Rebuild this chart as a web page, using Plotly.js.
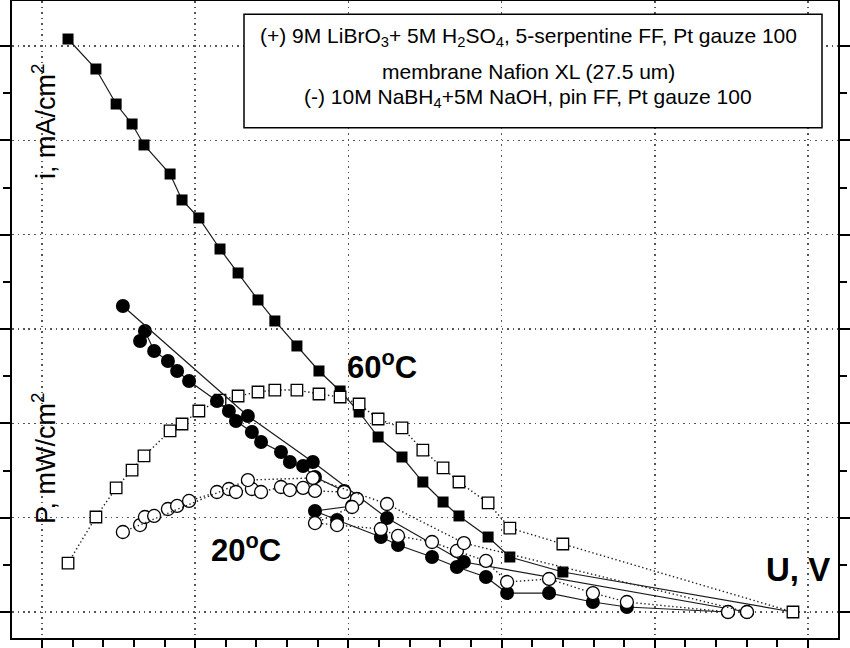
<!DOCTYPE html>
<html>
<head>
<meta charset="utf-8">
<script src="https://cdn.plot.ly/plotly-3.0.1.min.js"></script>
<style>html,body{margin:0;padding:0;background:#fff;}#chart{width:850px;height:648px;}</style>
</head>
<body>
<div id="chart"></div>
<script>
// ---- 60 C : current density (filled squares) and power density (open squares)
const U60 = [0.085,0.176,0.242,0.294,0.333,0.418,0.457,0.512,0.581,0.640,0.705,0.760,0.832,0.904,0.973,1.035,1.097,1.175,1.243,1.309,1.361,1.456,1.527,1.700,2.451];
const i60 = [607.4,575.6,538.5,517.3,495.1,464.3,436.8,417.7,384.8,359.4,330.8,308.5,282.0,255.5,234.3,212.0,185.5,164.3,137.8,116.6,101.8,79.5,58.3,42.4,0];
const P60 = [51.9,100.7,131.5,150.5,165.4,191.9,199.3,213.1,224.7,229.0,233.2,235.3,235.3,231.1,227.9,220.5,204.6,195.1,171.7,152.7,137.8,115.6,89.0,72.1,0];

// ---- 20 C : main run (filled circles = i, open circles = P)
const U20a = [0.320,0.336,0.366,0.411,0.441,0.480,0.571,0.610,0.633,0.685,0.715,0.780,0.809,0.852,0.891,0.986,1.028,1.012,0.891,0.963,1.106,1.162,1.273,1.354,1.449,1.518,1.655,1.798,1.909,2.239];
const i20a = [287.3,297.9,276.7,266.1,255.5,244.9,223.7,213.1,202.5,190.8,180.2,169.6,159.0,154.8,143.1,128.3,119.8,112.4,107.1,97.5,79.5,71.0,58.3,47.7,37.1,20.1,20.1,10.6,5.3,0];
const P20a = [92.2,100.7,101.8,109.2,112.4,117.7,127.2,130.4,127.2,130.4,127.2,132.5,129.3,131.5,128.3,127.2,119.8,111.3,94.3,92.2,88.0,80.6,74.2,64.7,54.1,31.8,35.0,20.1,10.6,0];

// ---- 20 C : sparse run
const U20b = [0.264,0.672,0.884,1.126,1.377,2.301];
const i20b = [324.4,207.8,159.0,99.6,53.0,0];
const P20b = [84.8,139.9,142.1,114.5,73.1,0];

// ---- texts
const yLabelI = 'i, mA/cm<sup>2</sup>';
const yLabelP = 'P, mW/cm<sup>2</sup>';
const xLabel = '<b>U, V</b>';
const label60 = '<b>60<sup>o</sup>C</b>';
const label20 = '<b>20<sup>o</sup>C</b>';
const infoLines = [
  '(+) 9M LiBrO<sub>3</sub>+ 5M H<sub>2</sub>SO<sub>4</sub>, 5-serpentine FF, Pt gauze 100',
  'membrane Nafion XL (27.5 um)',
  '(-) 10M NaBH<sub>4</sub>+5M NaOH, pin FF, Pt gauze 100'
];

const FONT = 'Liberation Sans, Arial, sans-serif';
const L = 12, R = 838, T = 1, B = 638;
function px(x){ return (x - L) / (R - L); }
function py(y){ return (B - y) / (B - T); }

const solid = {color:'#1a1a1a', width:1.2};
const dotted = {color:'#222', width:1.4, dash:'1.4px,2.6px'};
const filledSq = {symbol:'square', size:11, color:'#000', line:{width:0}};
const openSq = {symbol:'square', size:11.5, color:'#fff', line:{color:'#000', width:1.3}};
const filledCi = {symbol:'circle', size:14, color:'#000', line:{width:0}};
const openCi = {symbol:'circle', size:13, color:'#fff', line:{color:'#000', width:1.3}};

const traces = [
  {x:U60, y:i60, mode:'lines+markers', line:solid, marker:filledSq},
  {x:U60, y:P60, mode:'lines+markers', line:dotted, marker:openSq},
  {x:U20a, y:i20a, mode:'lines+markers', line:solid, marker:filledCi},
  {x:U20b, y:i20b, mode:'lines+markers', line:solid, marker:filledCi},
  {x:U20a, y:P20a, mode:'lines+markers', line:dotted, marker:openCi},
  {x:U20b, y:P20b, mode:'lines+markers', line:dotted, marker:openCi}
];

const axisCommon = {
  showticklabels:false, ticks:'outside', ticklen:12, tickwidth:2, tickcolor:'#000',
  showline:true, linewidth:2, linecolor:'#000', mirror:'allticks', zeroline:false,
  showgrid:true, gridcolor:'#555', gridwidth:1.5, griddash:'1.5px,4px'
};

const infoY = [37, 72, 98];
const annotations = [
  {text:yLabelI, x:px(44), y:py(121), textangle:-90, font:{size:27}},
  {text:yLabelP, x:px(44), y:py(458), textangle:-90, font:{size:27}},
  {text:label60, x:px(382), y:py(365), font:{size:31}},
  {text:label20, x:px(246), y:py(548), font:{size:31}},
  {text:xLabel, x:px(798), y:py(569), font:{size:33}}
].concat(infoLines.map((t,k)=>({text:t, x:px(528), y:py(infoY[k]), font:{size:21}})));
annotations.forEach(a=>{
  a.xref='paper'; a.yref='paper'; a.showarrow=false; a.xanchor='center'; a.yanchor='middle';
  a.font = Object.assign({family:FONT, color:'#000'}, a.font);
});

const layout = {
  width:850, height:648,
  margin:{l:L, r:850-R, t:T, b:648-B, pad:0},
  paper_bgcolor:'#fff', plot_bgcolor:'#fff',
  showlegend:false,
  font:{family:FONT, color:'#000'},
  xaxis:Object.assign({}, axisCommon, {range:[-0.0979, 2.598], tick0:0, dtick:0.5,
    minor:{tick0:0, dtick:0.1, ticks:'outside', ticklen:7, tickwidth:2, tickcolor:'#000', showgrid:false}}),
  yaxis:Object.assign({}, axisCommon, {range:[-27.56, 647.7], tick0:0, dtick:100,
    minor:{tick0:0, dtick:50, ticks:'outside', ticklen:7, tickwidth:2, tickcolor:'#000', showgrid:false}}),
  shapes:[{type:'rect', xref:'paper', yref:'paper', x0:px(244), x1:px(822), y0:py(127.7), y1:py(14.3),
    line:{color:'#000', width:1.5}, fillcolor:'#fff', layer:'above'}],
  annotations:annotations
};

Plotly.newPlot('chart', traces, layout, {staticPlot:true, displayModeBar:false});
</script>
</body>
</html>
